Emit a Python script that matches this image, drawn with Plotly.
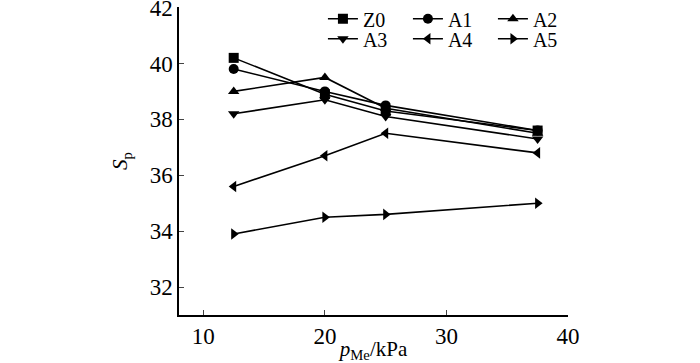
import plotly.graph_objects as go

pressure = [12.5, 20, 25, 37.5]
names = ["Z0", "A1", "A2", "A3", "A4", "A5"]
Z0 = [40.2, 38.9, 38.3, 37.6]
A1 = [39.8, 39.0, 38.5, 37.6]
A2 = [39.0, 39.5, 38.4, 37.5]
A3 = [38.2, 38.7, 38.1, 37.3]
A4 = [35.6, 36.7, 37.5, 36.8]
A5 = [33.9, 34.5, 34.6, 35.0]
series = [Z0, A1, A2, A3, A4, A5]
symbols = ["square", "circle", "triangle-up", "triangle-down", "triangle-left", "triangle-right"]

font = "Liberation Serif"
fig = go.Figure()
for i, (n, s, sym) in enumerate(zip(names, series, symbols)):
    fig.add_trace(go.Scatter(x=pressure, y=s, name=n, mode="lines+markers",
                             legend="legend" if i < 3 else "legend2",
                             line=dict(color="black", width=1.6),
                             marker=dict(symbol=sym, size=10, color="black")))

leg_common = dict(orientation="h", xanchor="left", yanchor="top",
                  entrywidth=40, font=dict(size=20, family=font),
                  bgcolor="rgba(0,0,0,0)", itemwidth=30, tracegroupgap=0)

fig.update_layout(
    width=700, height=363,
    margin=dict(l=179, r=132, t=7, b=48, autoexpand=False),
    paper_bgcolor="white", plot_bgcolor="white",
    font=dict(family=font, size=22, color="black"),
    showlegend=True,
    legend=dict(x=0.37, y=1.025, **leg_common),
    legend2=dict(x=0.37, y=0.96, **leg_common),
    xaxis=dict(range=[8, 40], tickvals=[10, 20, 30, 40], ticks="inside", ticklen=5,
               showline=True, linecolor="black", linewidth=1.5, showgrid=False,
               zeroline=False, tickfont=dict(size=23, family=font),
               ticklabeloverflow="allow",
               title=dict(text="<i>p</i><sub>Me</sub>/kPa", standoff=0,
                          font=dict(size=21, family=font))),
    yaxis=dict(range=[31, 42.02], tickvals=[32, 34, 36, 38, 40, 42], ticks="inside", ticklen=5,
               showline=True, linecolor="black", linewidth=1.5, showgrid=False,
               zeroline=False, tickfont=dict(size=23, family=font),
               ticklabeloverflow="allow",
               title=dict(text="<i>S</i><sub>p</sub>", standoff=16,
                          font=dict(size=21, family=font))),
)
fig.write_html("out.html", config={"displayModeBar": False},
               post_script="document.body.style.margin='0';")
